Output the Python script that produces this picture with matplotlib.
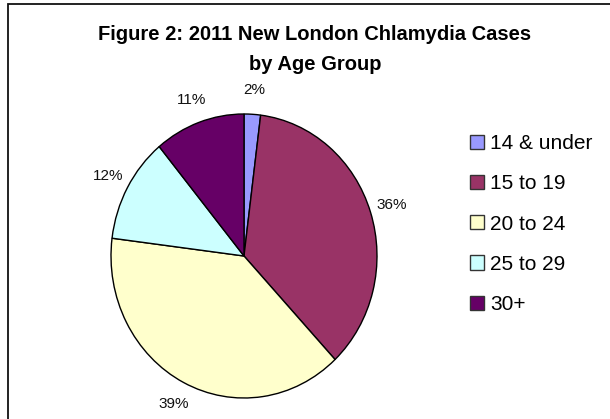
import matplotlib
matplotlib.use('Agg')
import matplotlib.pyplot as plt
from matplotlib.patches import Rectangle, Patch

plt.rcParams['font.family'] = ['Liberation Sans', 'DejaVu Sans']

# data
age_groups = ['14 & under', '15 to 19', '20 to 24', '25 to 29', '30+']
percents = [2, 36, 39, 12, 11]
colors = ['#9999FF', '#993366', '#FFFFCC', '#CCFFFF', '#660066']

W, H = 610, 419
fig = plt.figure(figsize=(W / 100, H / 100), dpi=100)

# outer border (only top and left visible in the crop)
fig.add_artist(Rectangle((8 / W, -0.1), 1.2, (H - 4) / H + 0.1, transform=fig.transFigure,
                         fill=False, edgecolor='#111111', linewidth=1.3, clip_on=False))

# pie is slightly stretched vertically like the original
ax = fig.add_axes([111 / W, 21 / H, 266 / W, 284 / H])
wedges, texts, autotexts = ax.pie(percents, colors=colors, startangle=90, counterclock=False,
                                  autopct='%.0f%%', pctdistance=1.17,
                                  wedgeprops=dict(edgecolor='black', linewidth=1.0),
                                  textprops=dict(fontsize=11, color='#111111'))
ax.set_aspect('auto')
ax.set_xlim(-1, 1)
ax.set_ylim(-1, 1)
ax.axis('off')

fig.text(315 / W, 1 - 35 / H, 'Figure 2: 2011 New London Chlamydia Cases', ha='center', va='center',
         fontsize=14.5, fontweight='bold')
fig.text(315 / W, 1 - 64 / H, 'by Age Group', ha='center', va='center',
         fontsize=14.5, fontweight='bold')

handles = [Patch(facecolor=c, edgecolor='#333333', linewidth=1.0) for c in colors]
fig.legend(handles, age_groups, loc='upper left', bbox_to_anchor=(470 / W, 1 - 134 / H),
           frameon=False, fontsize=15, handlelength=0.67, handleheight=0.67,
           handletextpad=0.3, labelspacing=1.02, borderpad=0, borderaxespad=0)

fig.savefig('out.png', dpi=100)
